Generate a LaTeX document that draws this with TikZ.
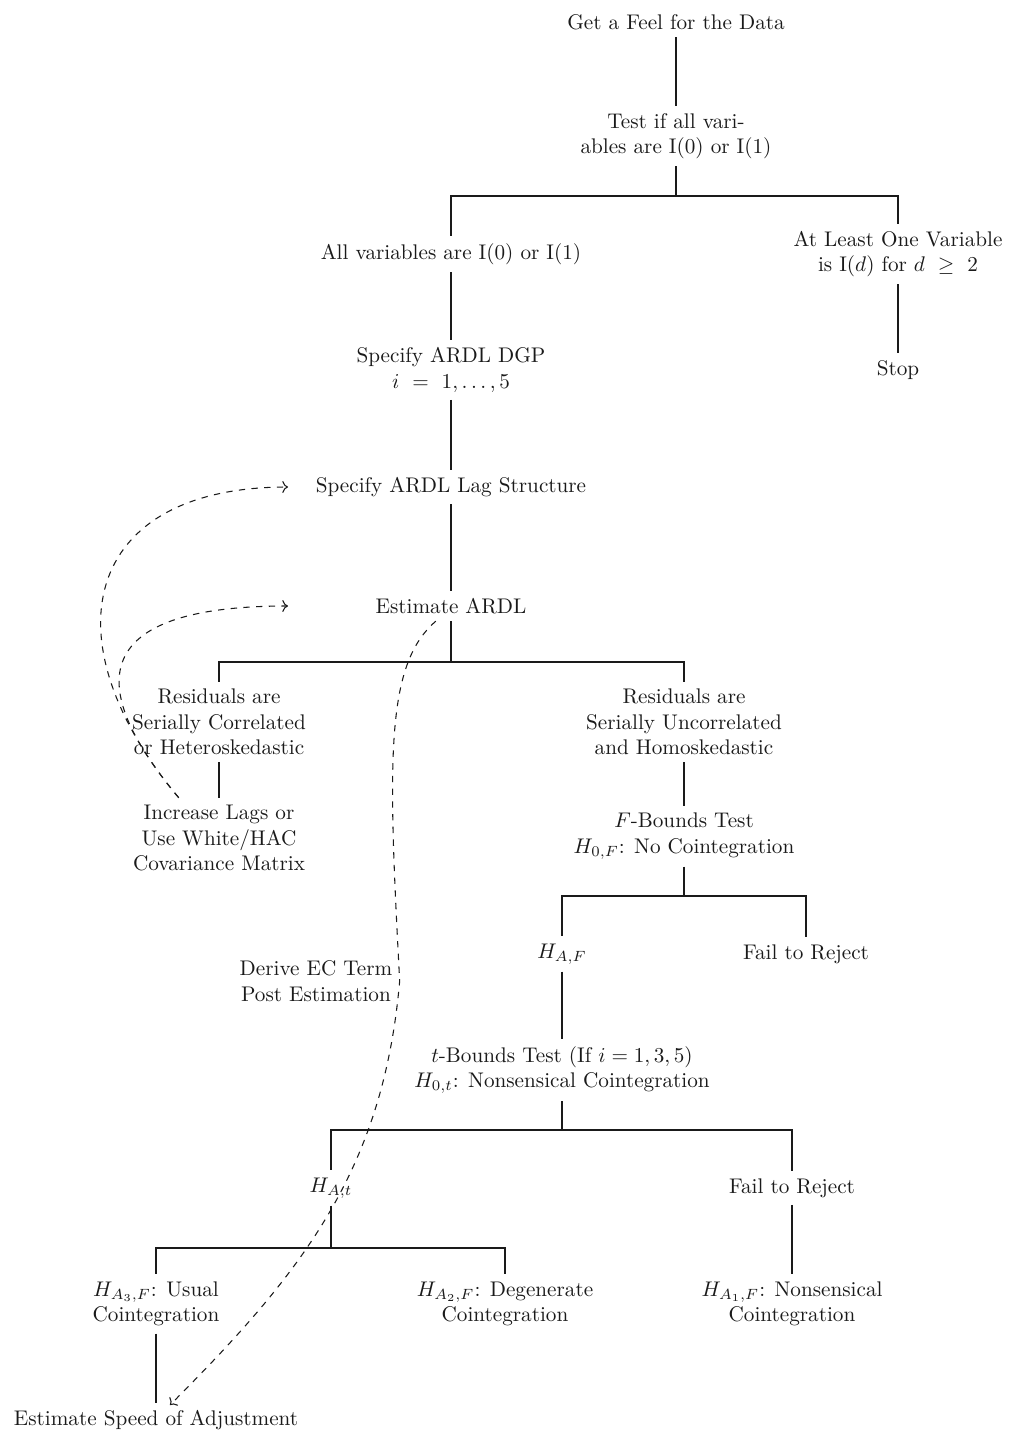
\documentclass[tikz,border=0pt]{standalone}
\usepackage{amsmath,amssymb}
\usepackage{tikz}
\usepackage{xcolor}
\usetikzlibrary{arrows.meta,positioning,calc}
\definecolor{ink}{HTML}{1A1A1A}
\tikzset{
  stage/.style={
    align=center, inner sep=3.3pt, text=ink, font=\normalsize
  },
  branch/.style={draw=ink, line width=0.6pt},
  feedback/.style={draw=ink, dashed, line width=0.5pt, ->}
}

\begin{document}
\begin{tikzpicture}[x=0.472pt,y=-0.472pt]
  \useasboundingbox (0,0) rectangle (1011,1435);

  % nodes
  \node[stage] (feel) at (676,22) {Get a Feel for the Data};
  \node[stage] (test) at (676,136) {Test if all vari-\\ables are I(0) or I(1)};
  \node[stage] (allvar) at (451,254) {All variables are I(0) or I(1)};
  \node[stage] (atleast) at (898,254) {At Least One Variable\\is I($d$) for $d\ \geq\ 2$};
  \node[stage] (stop) at (898,370) {Stop};
  \node[stage] (dgp) at (451,370) {Specify ARDL DGP\\$i\ =\ 1,\ldots,5$};
  \node[stage] (lag) at (451,487) {Specify ARDL Lag Structure};
  \node[stage] (est) at (451,606) {Estimate ARDL};
  \node[stage] (rescor) at (219,722) {Residuals are\\Serially Correlated\\or Heteroskedastic};
  \node[stage] (resunc) at (684,722) {Residuals are\\Serially Uncorrelated\\and Homoskedastic};
  \node[stage] (inc) at (219,838) {Increase Lags or\\Use White/HAC\\Covariance Matrix};
  \node[stage] (fbound) at (684,836) {$F$-Bounds Test\\$H_{0,F}$: No Cointegration};
  \node[stage] (haf) at (562,954) {$H_{A,F}$};
  \node[stage] (failf) at (806,954) {Fail to Reject};
  \node[stage] (derive) at (316,981) {Derive EC Term\\Post Estimation};
  \node[stage] (tbound) at (562,1070) {$t$-Bounds Test (If $i = 1,3,5$)\\$H_{0,t}$: Nonsensical Cointegration};
  \node[stage] (hat) at (331,1188) {$H_{A,t}$};
  \node[stage] (failt) at (792,1188) {Fail to Reject};
  \node[stage] (usual) at (156,1304) {$H_{A_3,F}$: Usual\\Cointegration};
  \node[stage] (degen) at (505,1304) {$H_{A_2,F}$: Degenerate\\Cointegration};
  \node[stage] (nonsens) at (792,1304) {$H_{A_1,F}$: Nonsensical\\Cointegration};
  \node[stage] (speed) at (156,1420) {Estimate Speed of Adjustment};

  % junctions of the forks
  \coordinate (j1) at (676,196);
  \coordinate (j2) at (451,662);
  \coordinate (j3) at (684,896);
  \coordinate (j4) at (562,1130);
  \coordinate (j5) at (331,1248);
  % free ends of the dashed arrows
  \coordinate (lagin) at (288,487);
  \coordinate (estin) at (288,606);
  \coordinate (speedin) at (170,1405);

  % tree
  \draw[branch] (feel) -- (test);
  \draw[branch] (test) -- (j1) -| (allvar);
  \draw[branch] (j1) -| (atleast);
  \draw[branch] (atleast) -- (stop);
  \draw[branch] (allvar) -- (dgp);
  \draw[branch] (dgp) -- (lag);
  \draw[branch] (lag) -- (est);
  \draw[branch] (est) -- (j2) -| (rescor);
  \draw[branch] (j2) -| (resunc);
  \draw[branch] (rescor) -- (inc);
  \draw[branch] (resunc) -- (fbound);
  \draw[branch] (fbound) -- (j3) -| (haf);
  \draw[branch] (j3) -| (failf);
  \draw[branch] (haf) -- (tbound);
  \draw[branch] (tbound) -- (j4) -| (hat);
  \draw[branch] (j4) -| (failt);
  \draw[branch] (failt) -- (nonsens);
  \draw[branch] (hat) -- (j5) -| (usual);
  \draw[branch] (j5) -| (degen);
  \draw[branch] (usual) -- (speed);

  % feedback loops
  \draw[feedback] (inc.135) to[out=130,in=180,looseness=1.6] (lagin);
  \draw[feedback] (inc.135) to[out=130,in=180,looseness=2] (estin);
  \draw[feedback] (est.225) .. controls (385,665) and (388,760) .. (derive.east)
    to[out=-95,in=45] (speedin);
\end{tikzpicture}
\end{document}
